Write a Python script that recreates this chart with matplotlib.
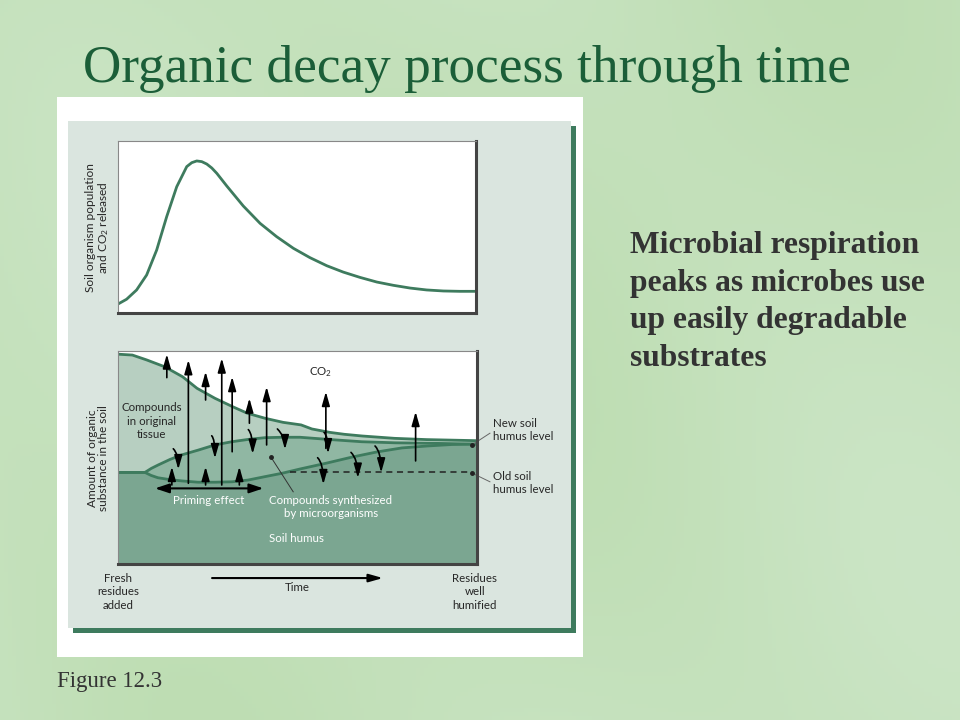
import numpy as np
import matplotlib.pyplot as plt
from matplotlib.patches import Rectangle

plt.rcParams['mathtext.default'] = 'regular'

# ---- top panel: soil organism population / CO2 released (relative units, time 0-100)
resp_time = [0, 2.4, 5.2, 8.0, 10.8, 13.6, 16.4, 19.2, 20.6, 22.0, 23.4, 24.8, 26.2, 27.6,
             30.4, 35.0, 39.7, 44.3, 49.0, 53.6, 58.3, 62.9, 67.6, 72.3, 76.9, 81.6, 86.2,
             90.9, 95.5, 100]
resp_level = [5.2, 8.0, 13.4, 22.1, 36.6, 56.0, 73.4, 85.1, 87.4, 88.4, 88.0, 86.6, 84.3, 81.2,
              73.8, 62.2, 52.1, 44.4, 37.6, 32.2, 27.5, 23.8, 20.7, 18.0, 16.1, 14.5, 13.4,
              12.8, 12.6, 12.6]

# ---- bottom panel: amount of organic substance in the soil
tissue_time = [0, 4, 8, 13, 18, 22, 27, 32, 36, 41, 46, 51, 54, 59, 63, 68, 77, 86, 100]
tissue_level = [98.5, 98.1, 95.8, 92.6, 87.9, 82.5, 77.8, 73.8, 70.8, 68.4, 66.5, 65.3, 63.4,
                61.8, 60.9, 60.1, 59.0, 58.4, 57.9]
new_time = [0, 7.5, 9.3, 11.2, 14.5, 17.7, 22.4, 27.0, 31.7, 36.3, 40.9, 45.6, 50.7, 58.5,
            67.9, 77.2, 86.4, 100]
new_level = [43, 43, 44.9, 46.5, 49.1, 51.2, 53.5, 55.9, 57.4, 58.5, 59.3, 59.5, 59.5, 58.5,
             57.4, 56.9, 56.7, 56.3]
base_time = [0, 7.5, 9.2, 11.1, 14.5, 17.8, 22.3, 27.0, 31.8, 36.2, 40.9, 45.7, 50.7, 58.2,
             65.2, 72.1, 79.1, 86.1, 93.0, 100]
base_level = [43, 43, 41.6, 40.5, 39.6, 39.0, 38.4, 38.4, 38.6, 39.4, 41.0, 42.6, 44.6, 47.4,
              50.2, 52.6, 54.5, 55.4, 56.1, 56.3]
old_humus_level = 43
old_humus_span = [48, 98.6]

# CO2 release arrows (straight, upward)
up_x = [13.6, 19.6, 24.4, 28.9, 31.8, 36.6, 41.4, 57.9, 82.9, 15.0, 24.4, 33.8]
up_from = [87.5, 37.9, 77.0, 37.1, 52.7, 66.1, 55.9, 54.3, 48.4, 37.1, 37.1, 37.1]
up_to = [98.5, 95.8, 90.3, 96.6, 87.9, 77.8, 83.2, 80.9, 71.5, 45.7, 45.7, 45.7]

# transfer arrows (curved, downward)
down_x0 = [15.4, 26.1, 36.3, 44.4, 57.4, 55.6, 64.9, 71.6]
down_y0 = [54.1, 60.2, 63.1, 63.4, 61.8, 49.9, 52.4, 55.4]
down_x1 = [16.8, 27.0, 37.5, 46.5, 58.5, 57.2, 66.8, 73.3]
down_y1 = [44.4, 49.6, 51.7, 53.8, 51.9, 37.4, 40.4, 42.9]

priming_span = [10.3, 40.5]
priming_level = 35.5

right_text = ['Microbial respiration', 'peaks as microbes use',
              'up easily degradable', 'substrates']

line_c = '#3e7b5e'
tissue_c = '#b7cfc1'
lens_c = '#90b7a3'
soil_c = '#7ba691'
panel_c = '#dae5df'
text_c = '#262626'
label_font = ['Lato', 'DejaVu Sans']

fig = plt.figure(figsize=(9.6, 7.2), dpi=100)

# slide background, card and caption text (pixel layout)
bg = fig.add_axes([0, 0, 1, 1])
bg.set_xlim(0, 960)
bg.set_ylim(720, 0)
bg.axis('off')
yy, xx = np.mgrid[0:720:4, 0:960:4]
t = 0.5 + 0.2 * np.sin(xx / 170.0 + yy / 230.0) + 0.15 * np.cos(xx / 90.0 - yy / 140.0) \
    + 0.1 * (xx + yy) / 1680.0
t = np.clip(t, 0, 1)
c1 = np.array([0.73, 0.86, 0.68])
c2 = np.array([0.80, 0.90, 0.78])
bg.imshow(c1 * (1 - t[..., None]) + c2 * t[..., None], extent=(0, 960, 720, 0),
          aspect='auto', zorder=0)
bg.add_patch(Rectangle((57, 97), 526, 560, fc='white', ec='none', zorder=1))
bg.add_patch(Rectangle((73, 126), 503, 507, fc=line_c, ec='none', zorder=2))
bg.add_patch(Rectangle((68, 121), 503, 507, fc=panel_c, ec='none', zorder=3))

bg.text(83, 82, 'Organic decay process through time', fontsize=38.3,
        family='Liberation Serif', color='#1b5e38', va='baseline', zorder=5)
for i, line in enumerate(right_text):
    bg.text(630, 253 + i * 37.7, line, fontsize=22.7, family='Liberation Serif',
            weight='bold', color='#333333', va='baseline', zorder=5)
bg.text(57, 687, 'Figure 12.3', fontsize=16.5, family='Liberation Serif',
        color='#333333', va='baseline', zorder=5)


def style_box(ax):
    ax.set_xlim(0, 100)
    ax.set_ylim(0, 100)
    ax.set_xticks([])
    ax.set_yticks([])
    ax.set_facecolor('white')
    for side in ['top', 'left']:
        ax.spines[side].set_color('#888888')
        ax.spines[side].set_linewidth(0.8)
    for side in ['right', 'bottom']:
        ax.spines[side].set_color('#444444')
        ax.spines[side].set_linewidth(2.2)


# top chart
ax1 = fig.add_axes([118 / 960, 1 - 313 / 720, 358 / 960, 172 / 720])
style_box(ax1)
ax1.plot(resp_time, resp_level, color=line_c, lw=2, solid_joinstyle='round')
ax1.text(-5.6, 49.7, 'Soil organism population\nand CO$_2$ released', rotation=90,
         ha='center', va='center', fontsize=8.6, family=label_font, color=text_c,
         linespacing=1.0)

# bottom chart
ax2 = fig.add_axes([118 / 960, 1 - 564 / 720, 359 / 960, 213 / 720])
style_box(ax2)
ax2.fill(base_time + [100, 0], base_level + [0, 0], color=soil_c, lw=0)
ax2.fill(new_time + base_time[::-1], new_level + base_level[::-1], color=lens_c, lw=0)
ax2.fill(tissue_time + new_time[::-1], tissue_level + new_level[::-1], color=tissue_c, lw=0)
for xs, ys in [(tissue_time, tissue_level), (new_time, new_level), (base_time, base_level)]:
    ax2.plot(xs, ys, color=line_c, lw=2, solid_joinstyle='round')
ax2.plot(old_humus_span, [old_humus_level] * 2, color='#222222', lw=1.1, ls=(0, (4, 3)))

head = '-|>,head_length=0.6,head_width=0.17'
arrow_kw = dict(arrowstyle=head, color='black', lw=1.2,
                mutation_scale=14, shrinkA=0, shrinkB=0)
for x, y0, y1 in zip(up_x, up_from, up_to):
    ax2.annotate('', xy=(x, y1), xytext=(x, y0), arrowprops=arrow_kw)
for x0, y0, x1, y1 in zip(down_x0, down_y0, down_x1, down_y1):
    ax2.annotate('', xy=(x1, y1), xytext=(x0, y0),
                 arrowprops=dict(arrow_kw, connectionstyle='angle3,angleA=-45,angleB=90'))
ax2.annotate('', xy=(priming_span[1], priming_level), xytext=(priming_span[0], priming_level),
             arrowprops=dict(arrow_kw, arrowstyle='<|-|>,head_length=0.6,head_width=0.2',
                             lw=1.5))

# markers and leader lines
ax2.plot([42.6, 48.8], [50.2, 33.9], color='#333333', lw=0.7)
ax2.plot([42.6], [50.2], 'o', color='#222222', ms=2.5)
for y_dot, y_lab in [(55.9, 61.4), (42.7, 38.6)]:
    ax2.plot([98.6, 103.6], [y_dot, y_lab], color='#666666', lw=0.7, clip_on=False)
    ax2.plot([98.6], [y_dot], 'o', color='#222222', ms=2.5)

txt = dict(fontsize=8.3, family=label_font, ha='center', va='center', linespacing=1.25)
ax2.text(9.4, 67.1, 'Compounds\nin original\ntissue', color=text_c, **txt)
ax2.text(56.3, 90.0, 'CO$_2$', color=text_c, **txt)
ax2.text(25.3, 30.0, 'Priming effect', color='white', **txt)
ax2.text(59.3, 26.7, 'Compounds synthesized\nby microorganisms', color='white', **txt)
ax2.text(49.6, 12.1, 'Soil humus', color='white', **txt)
ax2.text(104.5, 62.9, 'New soil\nhumus level', color=text_c, **dict(txt, ha='left'))
ax2.text(104.5, 38.0, 'Old soil\nhumus level', color=text_c, **dict(txt, ha='left'))
ax2.text(0, -13.1, 'Fresh\nresidues\nadded', color=text_c, **txt)
ax2.text(99.4, -13.1, 'Residues\nwell\nhumified', color=text_c, **txt)
ax2.text(49.9, -10.8, 'Time', color=text_c, **txt)
ax2.annotate('', xy=(73.8, -6.6), xytext=(26.2, -6.6), annotation_clip=False,
             arrowprops=dict(arrow_kw, lw=1.5))
ax2.text(-5.7, 49.8, 'Amount of organic\nsubstance in the soil', rotation=90,
         ha='center', va='center', fontsize=8.6, family=label_font, color=text_c,
         linespacing=1.0)

fig.savefig('out.png', dpi=100)
